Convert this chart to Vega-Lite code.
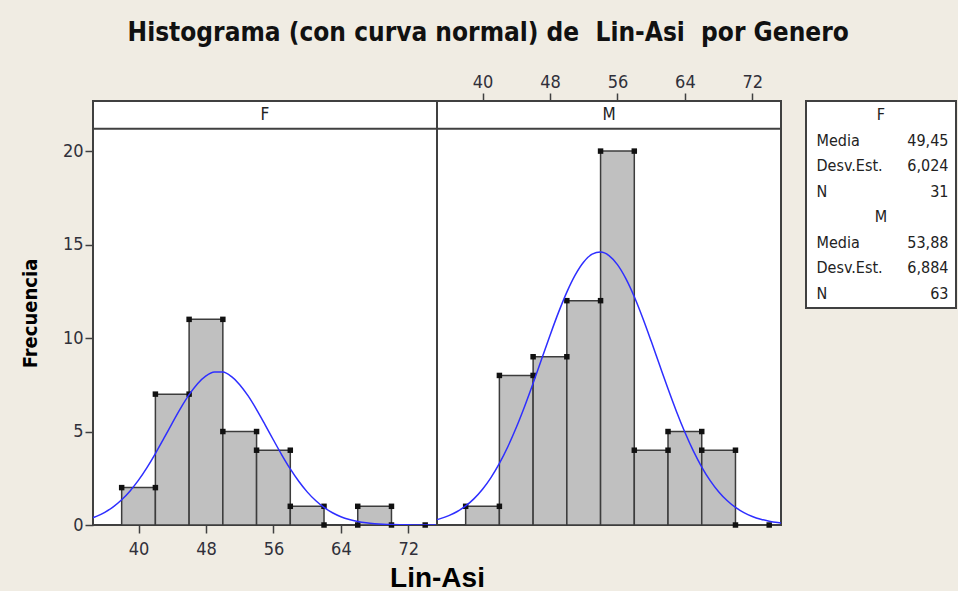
{
  "$schema": "https://vega.github.io/schema/vega-lite/v6.json",
  "background": "#F0ECE3",
  "padding": {"left": 19, "top": 20, "right": 5, "bottom": 0},
  "title": {
    "text": "Histograma (con curva normal) de\u00a0 Lin-Asi\u00a0 por Genero",
    "font": "DejaVu Sans Condensed",
    "fontWeight": "bold",
    "fontSize": 26,
    "color": "#111111",
    "anchor": "middle",
    "offset": 26
  },
  "datasets": {
    "bars": [
      {"g": "F", "lo": 38, "hi": 42, "count": 2},
      {"g": "F", "lo": 42, "hi": 46, "count": 7},
      {"g": "F", "lo": 46, "hi": 50, "count": 11},
      {"g": "F", "lo": 50, "hi": 54, "count": 5},
      {"g": "F", "lo": 54, "hi": 58, "count": 4},
      {"g": "F", "lo": 58, "hi": 62, "count": 1},
      {"g": "F", "lo": 62, "hi": 66, "count": 0},
      {"g": "F", "lo": 66, "hi": 70, "count": 1},
      {"g": "F", "lo": 70, "hi": 74, "count": 0},
      {"g": "M", "lo": 38, "hi": 42, "count": 1},
      {"g": "M", "lo": 42, "hi": 46, "count": 8},
      {"g": "M", "lo": 46, "hi": 50, "count": 9},
      {"g": "M", "lo": 50, "hi": 54, "count": 12},
      {"g": "M", "lo": 54, "hi": 58, "count": 20},
      {"g": "M", "lo": 58, "hi": 62, "count": 4},
      {"g": "M", "lo": 62, "hi": 66, "count": 5},
      {"g": "M", "lo": 66, "hi": 70, "count": 4},
      {"g": "M", "lo": 70, "hi": 74, "count": 0}
    ],
    "curve": [
      {"g": "F", "x": 34, "y": 0.306}, {"g": "F", "x": 35, "y": 0.463}, {"g": "F", "x": 36, "y": 0.679},
      {"g": "F", "x": 37, "y": 0.970}, {"g": "F", "x": 38, "y": 1.349}, {"g": "F", "x": 39, "y": 1.824},
      {"g": "F", "x": 40, "y": 2.399}, {"g": "F", "x": 41, "y": 3.071}, {"g": "F", "x": 42, "y": 3.822},
      {"g": "F", "x": 43, "y": 4.629}, {"g": "F", "x": 44, "y": 5.454}, {"g": "F", "x": 45, "y": 6.251},
      {"g": "F", "x": 46, "y": 6.970}, {"g": "F", "x": 47, "y": 7.560}, {"g": "F", "x": 48, "y": 7.978},
      {"g": "F", "x": 49, "y": 8.189}, {"g": "F", "x": 50, "y": 8.178}, {"g": "F", "x": 51, "y": 7.945},
      {"g": "F", "x": 52, "y": 7.508}, {"g": "F", "x": 53, "y": 6.903}, {"g": "F", "x": 54, "y": 6.174},
      {"g": "F", "x": 55, "y": 5.372}, {"g": "F", "x": 56, "y": 4.547}, {"g": "F", "x": 57, "y": 3.744},
      {"g": "F", "x": 58, "y": 2.999}, {"g": "F", "x": 59, "y": 2.337}, {"g": "F", "x": 60, "y": 1.772},
      {"g": "F", "x": 61, "y": 1.307}, {"g": "F", "x": 62, "y": 0.938}, {"g": "F", "x": 63, "y": 0.654},
      {"g": "F", "x": 64, "y": 0.444}, {"g": "F", "x": 65, "y": 0.294}, {"g": "F", "x": 66, "y": 0.189},
      {"g": "F", "x": 67, "y": 0.118}, {"g": "F", "x": 68, "y": 0.072}, {"g": "F", "x": 69, "y": 0.042},
      {"g": "F", "x": 70, "y": 0.024}, {"g": "F", "x": 71, "y": 0.014}, {"g": "F", "x": 72, "y": 0.007},
      {"g": "F", "x": 73, "y": 0.004}, {"g": "F", "x": 74, "y": 0.002}, {"g": "F", "x": 75, "y": 0.001},
      {"g": "F", "x": 76, "y": 0.0005},
      {"g": "M", "x": 34, "y": 0.226}, {"g": "M", "x": 35, "y": 0.340}, {"g": "M", "x": 36, "y": 0.501},
      {"g": "M", "x": 37, "y": 0.723}, {"g": "M", "x": 38, "y": 1.021}, {"g": "M", "x": 39, "y": 1.412},
      {"g": "M", "x": 40, "y": 1.913}, {"g": "M", "x": 41, "y": 2.537}, {"g": "M", "x": 42, "y": 3.295},
      {"g": "M", "x": 43, "y": 4.188}, {"g": "M", "x": 44, "y": 5.214}, {"g": "M", "x": 45, "y": 6.356},
      {"g": "M", "x": 46, "y": 7.585}, {"g": "M", "x": 47, "y": 8.863}, {"g": "M", "x": 48, "y": 10.140},
      {"g": "M", "x": 49, "y": 11.359}, {"g": "M", "x": 50, "y": 12.459}, {"g": "M", "x": 51, "y": 13.380},
      {"g": "M", "x": 52, "y": 14.070}, {"g": "M", "x": 53, "y": 14.485}, {"g": "M", "x": 54, "y": 14.602},
      {"g": "M", "x": 55, "y": 14.412}, {"g": "M", "x": 56, "y": 13.928}, {"g": "M", "x": 57, "y": 13.179},
      {"g": "M", "x": 58, "y": 12.209}, {"g": "M", "x": 59, "y": 11.075}, {"g": "M", "x": 60, "y": 9.837},
      {"g": "M", "x": 61, "y": 8.554}, {"g": "M", "x": 62, "y": 7.284}, {"g": "M", "x": 63, "y": 6.072},
      {"g": "M", "x": 64, "y": 4.957}, {"g": "M", "x": 65, "y": 3.962}, {"g": "M", "x": 66, "y": 3.100},
      {"g": "M", "x": 67, "y": 2.375}, {"g": "M", "x": 68, "y": 1.782}, {"g": "M", "x": 69, "y": 1.309},
      {"g": "M", "x": 70, "y": 0.941}, {"g": "M", "x": 71, "y": 0.663}, {"g": "M", "x": 72, "y": 0.457},
      {"g": "M", "x": 73, "y": 0.309}, {"g": "M", "x": 74, "y": 0.204}, {"g": "M", "x": 75, "y": 0.132},
      {"g": "M", "x": 76, "y": 0.084}
    ],
    "stats": [
      {"item": "F-head", "kind": "head", "label": "F", "value": ""},
      {"item": "F-media", "kind": "row", "label": "Media", "value": "49,45"},
      {"item": "F-desv", "kind": "row", "label": "Desv.Est.", "value": "6,024"},
      {"item": "F-n", "kind": "row", "label": "N", "value": "31"},
      {"item": "M-head", "kind": "head", "label": "M", "value": ""},
      {"item": "M-media", "kind": "row", "label": "Media", "value": "53,88"},
      {"item": "M-desv", "kind": "row", "label": "Desv.Est.", "value": "6,884"},
      {"item": "M-n", "kind": "row", "label": "N", "value": "63"}
    ]
  },
  "spacing": 22,
  "hconcat": [
    {
      "spacing": 0,
      "bounds": "flush",
      "hconcat": [
        {
          "width": 344,
          "height": 424,
          "layer": [
            {
              "data": {"name": "bars"},
              "transform": [{"filter": "datum.g == 'F'"}],
              "mark": {"type": "rect", "fill": "#C0C0C0", "stroke": "#3C3C3C", "strokeWidth": 1.5},
              "encoding": {
                "x": {"field": "lo", "type": "quantitative", "title": "Lin-Asi",
                      "scale": {"domain": [34.6, 75.4], "nice": false, "zero": false},
                      "axis": {"orient": "bottom", "values": [40, 48, 56, 64, 72], "title": "Lin-Asi",
                               "labelPadding": 7,
                               "titleFont": "Liberation Sans", "titleFontWeight": "bold", "titleFontSize": 28,
                               "titleColor": "#000000", "titleX": 344, "titleAlign": "center", "titlePadding": 6}},
                "x2": {"field": "hi"},
                "y": {"field": "count", "type": "quantitative", "title": "Frecuencia",
                      "scale": {"domain": [0, 22.68], "nice": false},
                      "axis": {"values": [0, 5, 10, 15, 20], "title": "Frecuencia",
                               "titleFont": "DejaVu Sans Condensed", "titleFontWeight": "bold", "titleFontSize": 20,
                               "titleColor": "#000000", "titlePadding": 22}},
                "y2": {"datum": 0}
              }
            },
            {
              "data": {"name": "bars"},
              "transform": [{"filter": "datum.g == 'F'"}],
              "mark": {"type": "point", "shape": "square", "filled": true, "color": "#111111", "size": 30, "opacity": 1},
              "encoding": {
                "x": {"field": "lo", "type": "quantitative", "title": "Lin-Asi"},
                "y": {"field": "count", "type": "quantitative", "title": "Frecuencia"}
              }
            },
            {
              "data": {"name": "bars"},
              "transform": [{"filter": "datum.g == 'F'"}],
              "mark": {"type": "point", "shape": "square", "filled": true, "color": "#111111", "size": 30, "opacity": 1},
              "encoding": {
                "x": {"field": "hi", "type": "quantitative", "title": "Lin-Asi"},
                "y": {"field": "count", "type": "quantitative", "title": "Frecuencia"}
              }
            },
            {
              "data": {"name": "curve"},
              "transform": [{"filter": "datum.g == 'F'"}],
              "mark": {"type": "line", "color": "#2E2EFF", "strokeWidth": 1.5, "interpolate": "monotone", "clip": true},
              "encoding": {
                "x": {"field": "x", "type": "quantitative", "title": "Lin-Asi"},
                "y": {"field": "y", "type": "quantitative", "title": "Frecuencia"}
              }
            },
            {
              "data": {"values": [{"lab": "F"}]},
              "mark": {"type": "rule", "color": "#404040", "strokeWidth": 2},
              "encoding": {"y": {"datum": 21.2}}
            },
            {
              "data": {"values": [{"lab": "F"}]},
              "mark": {"type": "text", "font": "DejaVu Sans Condensed", "fontSize": 17, "color": "#222222", "baseline": "middle"},
              "encoding": {"text": {"field": "lab"}, "x": {"datum": 55}, "y": {"datum": 21.94}}
            }
          ]
        },
        {
          "width": 344,
          "height": 424,
          "layer": [
            {
              "data": {"name": "bars"},
              "transform": [{"filter": "datum.g == 'M'"}],
              "mark": {"type": "rect", "fill": "#C0C0C0", "stroke": "#3C3C3C", "strokeWidth": 1.5},
              "encoding": {
                "x": {"field": "lo", "type": "quantitative", "title": null,
                      "scale": {"domain": [34.6, 75.4], "nice": false, "zero": false},
                      "axis": {"orient": "top", "values": [40, 48, 56, 64, 72], "title": null}},
                "x2": {"field": "hi"},
                "y": {"field": "count", "type": "quantitative", "title": null,
                      "scale": {"domain": [0, 22.68], "nice": false}, "axis": null},
                "y2": {"datum": 0}
              }
            },
            {
              "data": {"name": "bars"},
              "transform": [{"filter": "datum.g == 'M'"}],
              "mark": {"type": "point", "shape": "square", "filled": true, "color": "#111111", "size": 30, "opacity": 1},
              "encoding": {
                "x": {"field": "lo", "type": "quantitative", "title": null},
                "y": {"field": "count", "type": "quantitative", "title": null, "axis": null}
              }
            },
            {
              "data": {"name": "bars"},
              "transform": [{"filter": "datum.g == 'M'"}],
              "mark": {"type": "point", "shape": "square", "filled": true, "color": "#111111", "size": 30, "opacity": 1},
              "encoding": {
                "x": {"field": "hi", "type": "quantitative", "title": null},
                "y": {"field": "count", "type": "quantitative", "title": null, "axis": null}
              }
            },
            {
              "data": {"name": "curve"},
              "transform": [{"filter": "datum.g == 'M'"}],
              "mark": {"type": "line", "color": "#2E2EFF", "strokeWidth": 1.5, "interpolate": "monotone", "clip": true},
              "encoding": {
                "x": {"field": "x", "type": "quantitative", "title": null},
                "y": {"field": "y", "type": "quantitative", "title": null, "axis": null}
              }
            },
            {
              "data": {"values": [{"lab": "M"}]},
              "mark": {"type": "rule", "color": "#404040", "strokeWidth": 2},
              "encoding": {"y": {"datum": 21.2, "axis": null}}
            },
            {
              "data": {"values": [{"lab": "M"}]},
              "mark": {"type": "text", "font": "DejaVu Sans Condensed", "fontSize": 17, "color": "#222222", "baseline": "middle"},
              "encoding": {"text": {"field": "lab"}, "x": {"datum": 55}, "y": {"datum": 21.94, "axis": null}}
            }
          ]
        }
      ]
    },
    {
      "width": 150,
      "height": 207,
      "data": {"name": "stats"},
      "encoding": {
        "y": {"field": "item", "type": "nominal", "axis": null,
              "scale": {"type": "point", "padding": 0.55,
                        "domain": ["F-head", "F-media", "F-desv", "F-n", "M-head", "M-media", "M-desv", "M-n"]}}
      },
      "layer": [
        {
          "transform": [{"filter": "datum.kind == 'head'"}],
          "mark": {"type": "text", "align": "center", "baseline": "middle", "font": "DejaVu Sans Condensed", "fontSize": 16, "color": "#222222"},
          "encoding": {"x": {"datum": 0.5, "scale": {"domain": [0, 1], "nice": false, "zero": false}, "axis": null}, "text": {"field": "label"}}
        },
        {
          "transform": [{"filter": "datum.kind == 'row'"}],
          "mark": {"type": "text", "align": "left", "baseline": "middle", "font": "DejaVu Sans Condensed", "fontSize": 16, "color": "#222222"},
          "encoding": {"x": {"datum": 0.07, "axis": null}, "text": {"field": "label"}}
        },
        {
          "transform": [{"filter": "datum.kind == 'row'"}],
          "mark": {"type": "text", "align": "right", "baseline": "middle", "font": "DejaVu Sans Condensed", "fontSize": 16, "color": "#222222"},
          "encoding": {"x": {"datum": 0.95, "axis": null}, "text": {"field": "value"}}
        }
      ]
    }
  ],
  "config": {
    "view": {"stroke": "#404040", "strokeWidth": 2, "fill": "#FFFFFF"},
    "axis": {
      "domain": false,
      "grid": false,
      "labelFont": "DejaVu Sans Condensed",
      "labelFontSize": 18,
      "labelColor": "#30303A",
      "labelPadding": 2,
      "tickColor": "#404040",
      "tickWidth": 1.5,
      "tickSize": 8
    }
  }
}
